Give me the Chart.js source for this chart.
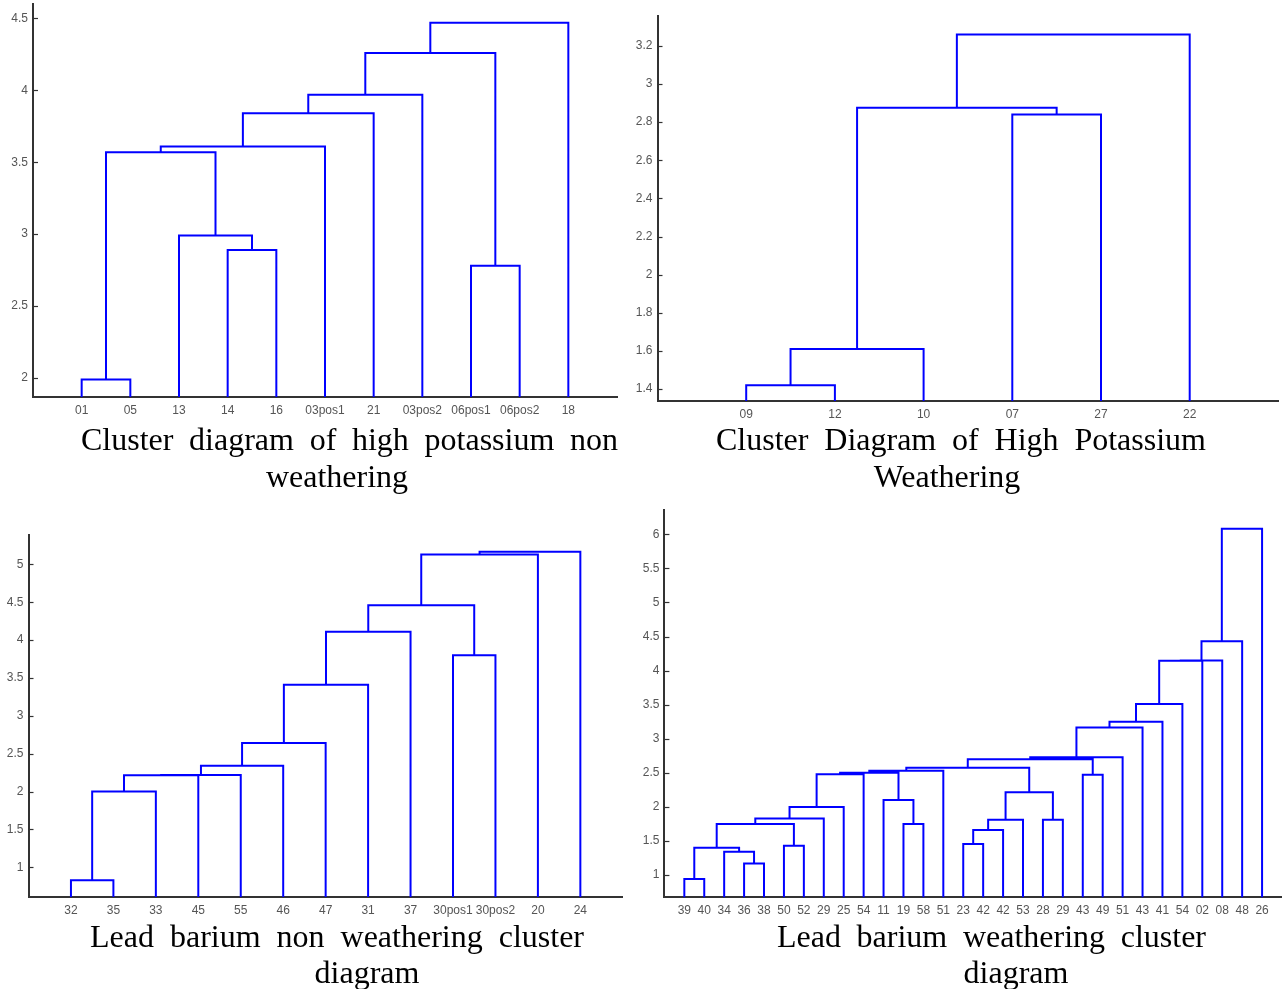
<!DOCTYPE html>
<html>
<head>
<meta charset="utf-8">
<script src="https://cdn.jsdelivr.net/npm/chart.js@4.4.1/dist/chart.umd.min.js"></script>
<style>
html, body { margin: 0; padding: 0; background: #ffffff; }
body { width: 1282px; height: 989px; position: relative; overflow: hidden; }
canvas { position: absolute; }
.cap { position: absolute; font-family: "Liberation Serif", "Times New Roman", serif; font-size: 32px; line-height: 37px; color: #000; }
.j { text-align: justify; text-align-last: justify; white-space: normal; }
.c { text-align: center; white-space: nowrap; width: 300px; }
</style>
</head>
<body>
<canvas id="c1" width="640" height="430" style="left:0px;top:0px"></canvas>
<canvas id="c2" width="682" height="430" style="left:600px;top:0px"></canvas>
<canvas id="c3" width="640" height="430" style="left:0px;top:500px"></canvas>
<canvas id="c4" width="682" height="430" style="left:600px;top:500px"></canvas>

<div class="cap j" style="left:81px;top:421px;width:537px">Cluster diagram of high potassium non</div>
<div class="cap c" style="left:187px;top:458px">weathering</div>
<div class="cap j" style="left:716px;top:421px;width:490px">Cluster Diagram of High Potassium</div>
<div class="cap c" style="left:797px;top:458px">Weathering</div>
<div class="cap j" style="left:90px;top:918px;width:494px">Lead barium non weathering cluster</div>
<div class="cap c" style="left:217px;top:954px">diagram</div>
<div class="cap j" style="left:777px;top:918px;width:429px">Lead barium weathering cluster</div>
<div class="cap c" style="left:866px;top:954px">diagram</div>

<script>
// ---------- DATA ----------
// Linkage rows: [node A, node B, merge height].
// Nodes 1..n are the leaves in plotted order; node n+k is the cluster made by row k.

// Panel 1: high potassium, non weathering
const p1Leaves = ['01', '05', '13', '14', '16', '03pos1', '21', '03pos2', '06pos1', '06pos2', '18'];
const p1Links = [
  [1, 2, 1.99],
  [4, 5, 2.89],
  [3, 13, 2.99],
  [12, 14, 3.57],
  [15, 6, 3.61],
  [16, 7, 3.84],
  [17, 8, 3.97],
  [9, 10, 2.78],
  [18, 19, 4.26],
  [20, 11, 4.47]
];
const p1YTicks = [2, 2.5, 3, 3.5, 4, 4.5];
const p1YRange = [1.868, 4.6];

// Panel 2: high potassium, weathering
const p2Leaves = ['09', '12', '10', '07', '27', '22'];
const p2Links = [
  [1, 2, 1.42],
  [7, 3, 1.61],
  [4, 5, 2.84],
  [8, 9, 2.875],
  [10, 6, 3.26]
];
const p2YTicks = [1.4, 1.6, 1.8, 2, 2.2, 2.4, 2.6, 2.8, 3, 3.2];
const p2YRange = [1.337, 3.357];

// Panel 3: lead barium, non weathering
const p3Leaves = ['32', '35', '33', '45', '55', '46', '47', '31', '37', '30pos1', '30pos2', '20', '24'];
const p3Links = [
  [1, 2, 0.83],
  [14, 3, 2.0],
  [15, 4, 2.215],
  [16, 5, 2.22],
  [17, 6, 2.34],
  [18, 7, 2.64],
  [19, 8, 3.41],
  [20, 9, 4.11],
  [10, 11, 3.80],
  [21, 22, 4.46],
  [23, 12, 5.13],
  [24, 13, 5.165]
];
const p3YTicks = [1, 1.5, 2, 2.5, 3, 3.5, 4, 4.5, 5];
const p3YRange = [0.608, 5.387];

// Panel 4: lead barium, weathering
const p4Leaves = ['39', '40', '34', '36', '38', '50', '52', '29', '25', '54', '11', '19', '58', '51', '23',
                  '42', '42', '53', '28', '29', '43', '49', '51', '43', '41', '54', '02', '08', '48', '26'];
const p4Links = [
  [1, 2, 0.94],
  [4, 5, 1.17],
  [3, 32, 1.34],
  [31, 33, 1.40],
  [6, 7, 1.43],
  [34, 35, 1.75],
  [36, 8, 1.83],
  [37, 9, 2.00],
  [38, 10, 2.48],
  [12, 13, 1.75],
  [11, 40, 2.10],
  [39, 41, 2.50],
  [42, 14, 2.53],
  [15, 16, 1.455],
  [44, 17, 1.66],
  [45, 18, 1.81],
  [19, 20, 1.81],
  [46, 47, 2.215],
  [43, 48, 2.575],
  [21, 22, 2.47],
  [49, 50, 2.70],
  [51, 23, 2.73],
  [52, 24, 3.165],
  [53, 25, 3.25],
  [54, 26, 3.51],
  [55, 27, 4.145],
  [56, 28, 4.15],
  [57, 29, 4.43],
  [58, 30, 6.08]
];
const p4YTicks = [1, 1.5, 2, 2.5, 3, 3.5, 4, 4.5, 5, 5.5, 6];
const p4YRange = [0.673, 6.357];

// ---------- DRAWING ----------
Chart.defaults.font.family = '"Liberation Sans", Arial, sans-serif';

// Build the U-shaped links (dendrogram) in data space: leaves at positions 1..n,
// each cluster sits at the mean position of its two children.
function dendroPoints(n, links) {
  const pos = [], hgt = [];
  for (let i = 1; i <= n; i++) { pos[i] = i; hgt[i] = 0; }
  const pts = [];
  links.forEach(([a, b, h], k) => {
    pts.push({ x: pos[a], y: hgt[a] }, { x: pos[a], y: h }, { x: pos[b], y: h }, { x: pos[b], y: hgt[b] }, { x: pos[b], y: null });
    const id = n + k + 1;
    pos[id] = (pos[a] + pos[b]) / 2;
    hgt[id] = h;
  });
  return pts;
}

const inwardTicks = {
  id: 'inwardTicks',
  afterDraw(chart) {
    const { ctx, chartArea } = chart;
    const ys = chart.scales.y;
    ctx.save();
    ctx.strokeStyle = '#333';
    ctx.lineWidth = 1.2;
    ys.ticks.forEach(t => {
      const py = Math.round(ys.getPixelForValue(t.value)) + 0.5;
      ctx.beginPath();
      ctx.moveTo(chartArea.left, py);
      ctx.lineTo(chartArea.left + 5, py);
      ctx.stroke();
    });
    ctx.restore();
  }
};

function makeDendro(id, leaves, links, yTicks, yRange, box) {
  const n = leaves.length;
  new Chart(document.getElementById(id), {
    type: 'line',
    data: {
      datasets: [{
        data: dendroPoints(n, links),
        borderColor: '#0000ff',
        borderWidth: 2,
        pointRadius: 0,
        fill: false,
        tension: 0,
        spanGaps: false,
        borderJoinStyle: 'miter',
        clip: { left: 4, right: 4, top: 4, bottom: 0 }
      }]
    },
    options: {
      responsive: false,
      animation: false,
      devicePixelRatio: 1,
      events: [],
      layout: { padding: { left: 0, right: box.padR, top: box.padT, bottom: 0 } },
      plugins: { legend: { display: false }, tooltip: { enabled: false } },
      scales: {
        x: {
          type: 'linear',
          min: 0,
          max: n + 1,
          z: 1,
          grid: { display: false, drawTicks: false },
          border: { display: true, color: '#333', width: 2 },
          ticks: {
            autoSkip: false, maxRotation: 0, minRotation: 0, padding: 6,
            color: '#555', font: { size: 12 },
            callback: v => leaves[v - 1]
          },
          afterBuildTicks: s => { s.ticks = leaves.map((_, i) => ({ value: i + 1 })); },
          afterFit: s => { s.height = box.xH; s.paddingLeft = 0; s.paddingRight = 0; }
        },
        y: {
          type: 'linear',
          min: yRange[0],
          max: yRange[1],
          z: 1,
          grid: { display: false, drawTicks: false },
          border: { display: true, color: '#333', width: 2 },
          ticks: {
            padding: 5, color: '#555', font: { size: 12 },
            callback: v => String(v)
          },
          afterBuildTicks: s => { s.ticks = yTicks.map(v => ({ value: v })); },
          afterFit: s => { s.width = box.yW; s.paddingTop = 0; s.paddingBottom = 0; }
        }
      }
    },
    plugins: [inwardTicks]
  });
}

makeDendro('c1', p1Leaves, p1Links, p1YTicks, p1YRange, { yW: 33, xH: 33, padR: 23, padT: 4 });
makeDendro('c2', p2Leaves, p2Links, p2YTicks, p2YRange, { yW: 57.5, xH: 29, padR: 3.6, padT: 16 });
makeDendro('c3', p3Leaves, p3Links, p3YTicks, p3YRange, { yW: 28.5, xH: 33, padR: 17.2, padT: 35 });
makeDendro('c4', p4Leaves, p4Links, p4YTicks, p4YRange, { yW: 64.4, xH: 32.7, padR: 0, padT: 10 });
</script>
</body>
</html>
